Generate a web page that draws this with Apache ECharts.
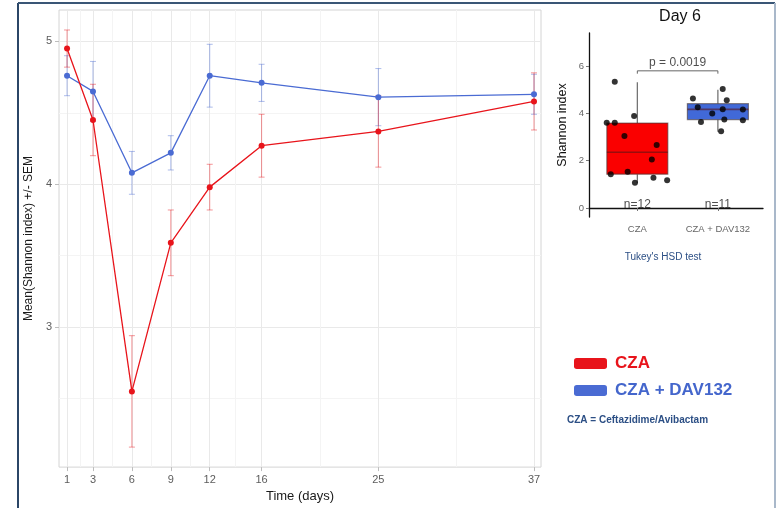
<!DOCTYPE html>
<html>
<head>
<meta charset="utf-8">
<style>
  html, body { margin: 0; padding: 0; background: #fff; }
  #chart { width: 777px; height: 508px; }
</style>
<script src="https://cdn.jsdelivr.net/npm/echarts@6/dist/echarts.min.js"></script>
</head>
<body>
<div id="chart"></div>
<script>
// time course (main panel)
const days = [1, 3, 6, 9, 12, 16, 25, 37]
const minorDays = [2, 4.5, 7.5, 10.5, 14, 20.5, 31]
const czaMean = [4.95, 4.45, 2.55, 3.59, 3.98, 4.27, 4.37, 4.58]
const czaSem = [0.13, 0.25, 0.39, 0.23, 0.16, 0.22, 0.25, 0.2]
const davMean = [4.76, 4.65, 4.08, 4.22, 4.76, 4.71, 4.61, 4.63]
const davSem = [0.14, 0.21, 0.15, 0.12, 0.22, 0.13, 0.2, 0.14]
const yMajor = [3, 4, 5]
const yGrid = [2.5, 3, 3.5, 4, 4.5, 5]

// day 6 inset
const boxGroups = ['CZA', 'CZA + DAV132']
// min, Q1, median, Q3, max
const czaBox = [1.05, 1.43, 2.36, 3.59, 5.32]
const davBox = [3.22, 3.74, 4.17, 4.41, 5.0]
const czaDots = [
  [0.72, 5.34], [0.62, 3.6], [0.72, 3.6], [0.96, 3.89], [0.84, 3.04], [1.24, 2.66],
  [1.18, 2.05], [0.67, 1.43], [0.88, 1.53], [0.97, 1.07], [1.2, 1.28], [1.37, 1.17]
]
const davDots = [
  [1.69, 4.63], [1.75, 4.26], [2.06, 5.03], [2.11, 4.56], [2.06, 4.18], [1.93, 4.0],
  [2.31, 4.17], [1.79, 3.64], [2.08, 3.74], [2.31, 3.71], [2.04, 3.25]
]
const groupN = [12, 11]
const pValue = '0.0019'
const insetTicks = [0, 2, 4, 6]

const RED = '#e8141b'
const BLUE = '#4a6bd3'
const BOX_FILL = ['#fa0000', '#4169d8']
const FONT = 'Liberation Sans'

const chart = echarts.init(document.getElementById('chart'))

const allDays = days.concat(minorDays).sort((a, b) => a - b)

// 误差线
const errorBar = (color) => (params, api) => {
  const x = api.value(0)
  const lo = api.coord([x, api.value(1)])
  const hi = api.coord([x, api.value(2)])
  const w = 3
  const style = { stroke: color, lineWidth: 1 }
  return {
    type: 'group',
    children: [
      { type: 'line', shape: { x1: lo[0], y1: lo[1], x2: hi[0], y2: hi[1] }, style },
      { type: 'line', shape: { x1: lo[0] - w, y1: lo[1], x2: lo[0] + w, y2: lo[1] }, style },
      { type: 'line', shape: { x1: hi[0] - w, y1: hi[1], x2: hi[0] + w, y2: hi[1] }, style },
    ],
  }
}

// 箱线图（无须线端帽）
const boxItem = (params, api) => {
  const x = api.value(0)
  const pt = (d) => api.coord([x, api.value(d)])
  const min = pt(1), q1 = pt(2), med = pt(3), q3 = pt(4), max = pt(5)
  const half = 30.5
  const edge = { stroke: 'rgba(70,55,55,0.6)', lineWidth: 1.2 }
  const whisker = { stroke: '#6a6a6a', lineWidth: 1.2 }
  return {
    type: 'group',
    children: [
      { type: 'line', shape: { x1: min[0], y1: min[1], x2: min[0], y2: q1[1] }, style: whisker },
      { type: 'line', shape: { x1: max[0], y1: q3[1], x2: max[0], y2: max[1] }, style: whisker },
      {
        type: 'rect',
        shape: { x: q1[0] - half, y: q3[1], width: half * 2, height: q1[1] - q3[1] },
        style: Object.assign({ fill: BOX_FILL[params.dataIndex] }, edge),
      },
      { type: 'line', shape: { x1: med[0] - half, y1: med[1], x2: med[0] + half, y2: med[1] }, style: { stroke: 'rgba(90,20,20,0.6)', lineWidth: 1.6 } },
    ],
  }
}

const bracketY = 5.8
const option = {
  animation: false,
  textStyle: { fontFamily: FONT },
  grid: [
    { left: 59, top: 10, width: 482, height: 459, show: true, borderColor: '#d4d4d4', borderWidth: 1 },
    { left: 589, top: 33, width: 174, height: 184 },
  ],
  xAxis: [
    {
      gridIndex: 0, type: 'value', min: 0.38, max: 37.54, position: 'bottom',
      axisLine: { show: false },
      axisTick: { show: false, customValues: allDays },
      axisLabel: { show: false },
      splitLine: { lineStyle: { color: ['#e9e9e9', '#f4f4f4'], width: 1 } },
    },
    {
      gridIndex: 0, type: 'value', min: 0.38, max: 37.54, position: 'bottom',
      name: 'Time (days)', nameLocation: 'middle', nameGap: 21,
      nameTextStyle: { fontSize: 13, color: '#1a1a1a' },
      axisLine: { show: false },
      axisTick: { show: true, length: 4, customValues: days, lineStyle: { color: '#bdbdbd' } },
      axisLabel: { customValues: days, fontSize: 11, color: '#5c5c5c', margin: 7 },
      splitLine: { show: false },
    },
    {
      gridIndex: 1, type: 'value', min: 0.4, max: 2.56,
      axisLine: { lineStyle: { color: '#111', width: 1.3 } },
      axisTick: { customValues: [1, 2], length: 3, lineStyle: { color: '#777' } },
      axisLabel: {
        customValues: [1, 2], fontSize: 9.5, color: '#666', margin: 7,
        formatter: (v) => boxGroups[v - 1],
      },
      splitLine: { show: false },
    },
  ],
  yAxis: [
    {
      gridIndex: 0, type: 'value', min: 2.02, max: 5.22,
      axisLine: { show: false },
      axisTick: { show: false, customValues: yGrid },
      axisLabel: { show: false },
      splitLine: { lineStyle: { color: ['#f4f4f4', '#e9e9e9'], width: 1 } },
    },
    {
      gridIndex: 0, type: 'value', min: 2.02, max: 5.22, position: 'left',
      name: 'Mean(Shannon index) +/- SEM', nameLocation: 'middle', nameGap: 20,
      nameTextStyle: { fontSize: 12, color: '#1a1a1a' },
      axisLine: { show: false },
      axisTick: { show: true, length: 4, customValues: yMajor, lineStyle: { color: '#bdbdbd' } },
      axisLabel: { customValues: yMajor, fontSize: 11, color: '#5c5c5c', margin: 7 },
      splitLine: { show: false },
    },
    {
      gridIndex: 1, type: 'value', min: -0.38, max: 7.4,
      name: 'Shannon index', nameLocation: 'middle', nameGap: 20,
      nameTextStyle: { fontSize: 12.5, color: '#111' },
      axisLine: { show: true, lineStyle: { color: '#111', width: 1.3 } },
      axisTick: { show: true, customValues: insetTicks, length: 3, lineStyle: { color: '#777' } },
      axisLabel: { customValues: insetTicks, fontSize: 9.5, color: '#666', margin: 5 },
      splitLine: { show: false },
    },
  ],
  legend: {
    orient: 'vertical', left: 569, top: 350, itemGap: 10,
    icon: 'roundRect', itemWidth: 33, itemHeight: 11,
    textStyle: { fontSize: 17, fontWeight: 'bold', fontFamily: FONT, padding: [0, 0, 0, 3] },
    data: [
      { name: 'CZA', itemStyle: { color: RED }, textStyle: { color: RED } },
      { name: 'CZA + DAV132', itemStyle: { color: BLUE }, textStyle: { color: '#4466cc' } },
    ],
  },
  graphic: [
    { type: 'line', shape: { x1: 18, y1: 3, x2: 18, y2: 508 }, style: { stroke: '#2b4667', lineWidth: 2 } },
    { type: 'line', shape: { x1: 18, y1: 3, x2: 775, y2: 3 }, style: { stroke: '#3a5676', lineWidth: 2 } },
    { type: 'line', shape: { x1: 775, y1: 3, x2: 775, y2: 508 }, style: { stroke: '#a9b8ca', lineWidth: 2 } },
    {
      type: 'text', x: 680, y: 17,
      style: { text: 'Day 6', fontSize: 16, fontFamily: FONT, fill: '#111', align: 'center', verticalAlign: 'middle' },
    },
    {
      type: 'text', x: 663, y: 257,
      style: { text: "Tukey's HSD test", fontSize: 10, fontFamily: FONT, fill: '#2c4f85', align: 'center', verticalAlign: 'middle' },
    },
    {
      type: 'text', x: 567, y: 420,
      style: { text: 'CZA = Ceftazidime/Avibactam', fontSize: 10, fontWeight: 'bold', fontFamily: FONT, fill: '#2c4f85', verticalAlign: 'middle' },
    },
  ],
  series: [
    {
      name: 'CZA + DAV132', type: 'custom', xAxisIndex: 0, yAxisIndex: 0, z: 3,
      itemStyle: { color: BLUE },
      renderItem: errorBar('rgba(74,107,211,0.45)'),
      encode: { x: 0, y: [1, 2] },
      data: days.map((d, i) => [d, davMean[i] - davSem[i], davMean[i] + davSem[i]]),
    },
    {
      name: 'CZA', type: 'custom', xAxisIndex: 0, yAxisIndex: 0, z: 4,
      itemStyle: { color: RED },
      renderItem: errorBar('rgba(232,20,27,0.45)'),
      encode: { x: 0, y: [1, 2] },
      data: days.map((d, i) => [d, czaMean[i] - czaSem[i], czaMean[i] + czaSem[i]]),
    },
    {
      name: 'CZA + DAV132', type: 'line', xAxisIndex: 0, yAxisIndex: 0, z: 5,
      symbol: 'circle', symbolSize: 6,
      lineStyle: { width: 1.3, color: BLUE },
      itemStyle: { color: BLUE },
      data: days.map((d, i) => [d, davMean[i]]),
    },
    {
      name: 'CZA', type: 'line', xAxisIndex: 0, yAxisIndex: 0, z: 6,
      symbol: 'circle', symbolSize: 6,
      lineStyle: { width: 1.3, color: RED },
      itemStyle: { color: RED },
      data: days.map((d, i) => [d, czaMean[i]]),
    },
    {
      type: 'custom', xAxisIndex: 2, yAxisIndex: 2, z: 3,
      renderItem: boxItem,
      encode: { x: 0, y: [1, 2, 3, 4, 5] },
      data: [[1].concat(czaBox), [2].concat(davBox)],
    },
    {
      type: 'scatter', xAxisIndex: 2, yAxisIndex: 2, symbolSize: 6, z: 4,
      itemStyle: { color: '#000' },
      data: czaDots.concat(davDots),
    },
    {
      type: 'line', xAxisIndex: 2, yAxisIndex: 2, symbol: 'none',
      lineStyle: { color: '#666', width: 1 },
      data: [[1, bracketY - 0.12], [1, bracketY], [2, bracketY], [2, bracketY - 0.12]],
    },
    {
      type: 'scatter', xAxisIndex: 2, yAxisIndex: 2, symbolSize: 0,
      label: {
        show: true, position: 'inside', fontSize: 12, color: '#222', fontFamily: FONT,
        formatter: () => 'p = ' + pValue,
      },
      data: [[1.5, 6.13]],
    },
    {
      type: 'scatter', xAxisIndex: 2, yAxisIndex: 2, symbolSize: 0,
      label: {
        show: true, position: 'inside', fontSize: 12, color: '#222', fontFamily: FONT,
        formatter: (p) => 'n=' + groupN[p.dataIndex],
      },
      data: groupN.map((n, i) => [i + 1, 0.13]),
    },
  ],
}

chart.setOption(option)
</script>
</body>
</html>
